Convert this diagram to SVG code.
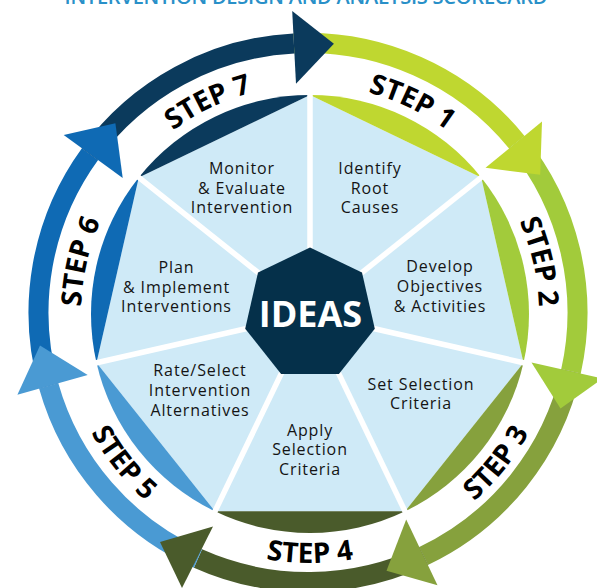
<svg xmlns="http://www.w3.org/2000/svg" xmlns:xlink="http://www.w3.org/1999/xlink" width="597" height="588" viewBox="0 0 597 588">
  <style>
    .ring { fill: none; stroke-width: 20; }
    .lbl { font-family: "Open Sans", "Liberation Sans", sans-serif; font-size: 16px; fill: #141414; text-anchor: middle; letter-spacing: 0.9px; }
    .step { font-family: "Open Sans", "Liberation Sans", sans-serif; font-weight: 700; font-size: 28px; fill: #000; }
    .div { stroke: #fff; stroke-width: 5.5; stroke-linecap: butt; }
    .c1 { fill: #BFD730; } .s1 { stroke: #BFD730; }
    .c2 { fill: #A2CB3B; } .s2 { stroke: #A2CB3B; }
    .c3 { fill: #86A13D; } .s3 { stroke: #86A13D; }
    .c4 { fill: #4A5B2B; } .s4 { stroke: #4A5B2B; }
    .c5 { fill: #4A9AD3; } .s5 { stroke: #4A9AD3; }
    .c6 { fill: #0F6AB4; } .s6 { stroke: #0F6AB4; }
    .c7 { fill: #0B3A5C; } .s7 { stroke: #0B3A5C; }
  </style>
  <defs>
    <path id="t1" d="M253.48,92.09 A229,229 0 0 1 518.73,219.79"/>
    <path id="t2" d="M448.24,131.43 A229,229 0 0 1 513.78,418.47"/>
    <path id="t3" d="M359.34,558.06 A249,249 0 0 0 558.92,307.79"/>
    <path id="t4" d="M149.95,504.74 A249,249 0 0 0 469.95,504.74"/>
    <path id="t5" d="M61.08,307.79 A249,249 0 0 0 260.66,558.06"/>
    <path id="t6" d="M106.22,418.47 A229,229 0 0 1 171.76,131.43"/>
    <path id="t7" d="M101.27,219.79 A229,229 0 0 1 366.52,92.09"/>
  </defs>

  <text x="306" y="4" font-family="Open Sans, Liberation Sans, sans-serif" font-size="20" font-weight="600" fill="#2990C8" textLength="483" lengthAdjust="spacing" text-anchor="middle">INTERVENTION DESIGN AND ANALYSIS SCORECARD</text>

  <!-- light blue inner heptagon -->
  <polygon id="inner-field" points="310,95 481.22,177.46 523.51,362.73 405.02,511.31 214.98,511.31 96.49,362.73 138.78,177.46" fill="#CFEAF7"/>

  <g id="step1">
    <path class="c1" d="M310,95 A219,219 0 0 1 481.22,177.46 Z"/>
    <text class="step"><textPath href="#t1" xlink:href="#t1" startOffset="50%" text-anchor="middle">STEP 1</textPath></text>
    <text class="lbl" x="370" y="174">Identify</text>
    <text class="lbl" x="370" y="193.5">Root</text>
    <text class="lbl" x="370" y="213">Causes</text>
  </g>
  <g id="step2">
    <path class="c2" d="M481.22,177.46 A219,219 0 0 1 523.51,362.73 Z"/>
    <text class="step"><textPath href="#t2" xlink:href="#t2" startOffset="50%" text-anchor="middle">STEP 2</textPath></text>
    <text class="lbl" x="440" y="272">Develop</text>
    <text class="lbl" x="440" y="292">Objectives</text>
    <text class="lbl" x="440" y="312">&amp; Activities</text>
  </g>
  <g id="step3">
    <path class="c3" d="M523.51,362.73 A219,219 0 0 1 405.02,511.31 Z"/>
    <text class="step"><textPath href="#t3" xlink:href="#t3" startOffset="50%" text-anchor="middle">STEP 3</textPath></text>
    <text class="lbl" x="421" y="389.5">Set Selection</text>
    <text class="lbl" x="421" y="409">Criteria</text>
  </g>
  <g id="step4">
    <path class="c4" d="M405.02,511.31 A219,219 0 0 1 214.98,511.31 Z"/>
    <text class="step"><textPath href="#t4" xlink:href="#t4" startOffset="50%" text-anchor="middle">STEP 4</textPath></text>
    <text class="lbl" x="310" y="435.5">Apply</text>
    <text class="lbl" x="310" y="455">Selection</text>
    <text class="lbl" x="310" y="475">Criteria</text>
  </g>
  <g id="step5">
    <path class="c5" d="M214.98,511.31 A219,219 0 0 1 96.49,362.73 Z"/>
    <text class="step"><textPath href="#t5" xlink:href="#t5" startOffset="50%" text-anchor="middle">STEP 5</textPath></text>
    <text class="lbl" x="200" y="376">Rate/Select</text>
    <text class="lbl" x="200" y="396">Intervention</text>
    <text class="lbl" x="200" y="416">Alternatives</text>
  </g>
  <g id="step6">
    <path class="c6" d="M96.49,362.73 A219,219 0 0 1 138.78,177.46 Z"/>
    <text class="step"><textPath href="#t6" xlink:href="#t6" startOffset="50%" text-anchor="middle">STEP 6</textPath></text>
    <text class="lbl" x="176.5" y="272.5">Plan</text>
    <text class="lbl" x="176.5" y="292.5">&amp; Implement</text>
    <text class="lbl" x="176.5" y="312">Interventions</text>
  </g>
  <g id="step7">
    <path class="c7" d="M138.78,177.46 A219,219 0 0 1 310,95 Z"/>
    <text class="step"><textPath href="#t7" xlink:href="#t7" startOffset="50%" text-anchor="middle">STEP 7</textPath></text>
    <text class="lbl" x="242" y="174">Monitor</text>
    <text class="lbl" x="242" y="193.5">&amp; Evaluate</text>
    <text class="lbl" x="242" y="213">Intervention</text>
  </g>

  <!-- white dividers -->
  <g id="dividers">
    <line class="div" x1="310" y1="314" x2="310" y2="93"/>
    <line class="div" x1="310" y1="314" x2="482.8" y2="176.2"/>
    <line class="div" x1="310" y1="314" x2="525.5" y2="363.2"/>
    <line class="div" x1="310" y1="314" x2="405.9" y2="513.1"/>
    <line class="div" x1="310" y1="314" x2="214.1" y2="513.1"/>
    <line class="div" x1="310" y1="314" x2="94.5" y2="363.2"/>
    <line class="div" x1="310" y1="314" x2="137.2" y2="176.2"/>
  </g>

  <g id="center">
    <polygon points="310,247.5 362,272.5 374.8,328.8 338.9,373.9 281.1,373.9 245.2,328.8 258,272.5" fill="#05304A"/>
    <text x="310.5" y="327" font-family="Open Sans, Liberation Sans, sans-serif" font-weight="700" font-size="36" fill="#fff" text-anchor="middle">IDEAS</text>
  </g>

  <g id="connectors">
    <path class="ring s1" d="M293.9,43.4 A269.5,269.5 0 0 1 516.8,142.2"/>
    <path class="ring s2" d="M516.8,142.2 A269.5,269.5 0 0 1 571.0,371.3"/>
    <path class="ring s3" d="M571.0,371.3 A269.5,269.5 0 0 1 423.6,556.0"/>
    <path class="ring s4" d="M423.6,556.0 A269.5,269.5 0 0 1 198.0,558.5"/>
    <path class="ring s5" d="M198.0,558.5 A269.5,269.5 0 0 1 48.7,385.9"/>
    <path class="ring s6" d="M48.7,385.9 A269.5,269.5 0 0 1 90.0,154.1"/>
    <path class="ring s7" d="M90.0,154.1 A269.5,269.5 0 0 1 293.9,43.4"/>
    <polygon class="c7" points="292.2,10.9 296,83.8 333.9,43.7"/>
    <polygon class="c1" points="542,121.6 485.5,167.8 540.2,174.7"/>
    <polygon class="c2" points="531.5,362.5 602.7,378.4 560.5,408.5"/>
    <polygon class="c3" points="406.2,519.4 437.5,585.3 386.5,570.8"/>
    <polygon class="c4" points="213,526.5 182,588 160,542"/>
    <polygon class="c5" points="87.7,374.9 17.4,394.7 40,345.5"/>
    <polygon class="c6" points="63.7,135 122.7,177.9 115.4,123.3"/>
  </g>
</svg>
